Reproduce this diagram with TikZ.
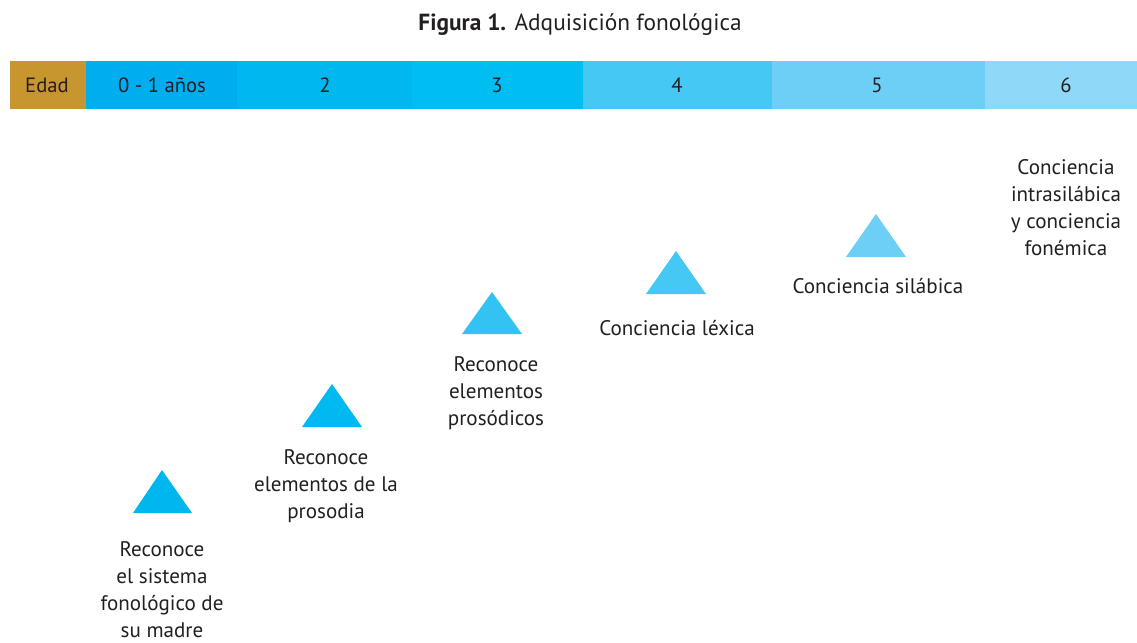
\documentclass[tikz,border=0pt]{standalone}
\usepackage{fontspec}
\setmainfont{PT Sans}
\definecolor{txt}{HTML}{231F20}
\definecolor{cEdad}{HTML}{C8962E}
\definecolor{cA}{HTML}{00AEEF}
\definecolor{cB}{HTML}{00B7F0}
\definecolor{cC}{HTML}{00BDF2}
\definecolor{cD}{HTML}{45C8F4}
\definecolor{cE}{HTML}{6DCFF6}
\definecolor{cF}{HTML}{8FD8F7}
\definecolor{tA}{HTML}{00B6EE}
\definecolor{tB}{HTML}{00B9F0}
\definecolor{tC}{HTML}{33C3F3}
\definecolor{tD}{HTML}{45C8F4}
\definecolor{tE}{HTML}{6DCFF6}
\tikzset{
  cell/.style={inner sep=0pt, text=txt, font=\fontsize{15.5}{18}\selectfont},
  lbl/.style={inner sep=0pt, text=txt, align=center, font=\fontsize{15.8}{20.2}\selectfont},
  tri/.style={draw=none}
}
\begin{document}
\begin{tikzpicture}[x=0.75pt,y=-0.75pt]
\useasboundingbox (0,0) rectangle (1137,642);
% title
\node[inner sep=0pt, text=txt, font=\fontsize{17.5}{20}\selectfont] (title) at (580,25) {\textbf{Figura 1.} Adquisición fonológica};
% header bar
\fill[cEdad] (10,61) rectangle (86,109);
\fill[cA] (86,61) rectangle (237,109);
\fill[cB] (237,61) rectangle (412,109);
\fill[cC] (412,61) rectangle (583,109);
\fill[cD] (583,61) rectangle (772,109);
\fill[cE] (772,61) rectangle (985,109);
\fill[cF] (985,61) rectangle (1137,109);
\node[cell] (h0) at (47,85) {Edad};
\node[cell] (h1) at (162,85) {0 - 1 años};
\node[cell] (h2) at (325,85) {2};
\node[cell] (h3) at (497,85) {3};
\node[cell] (h4) at (677,85) {4};
\node[cell] (h5) at (877,85) {5};
\node[cell] (h6) at (1066,85) {6};
% triangles
\fill[tA] (133,513) -- (162,470) -- (192,513) -- cycle;
\fill[tB] (302,427) -- (332,384) -- (362,427) -- cycle;
\fill[tC] (462,334) -- (492,292) -- (522,334) -- cycle;
\fill[tD] (646,294) -- (676,251) -- (706,294) -- cycle;
\fill[tE] (846,257) -- (876,214) -- (906,257) -- cycle;
% labels
\node[lbl] (l1) at (162,590) {Reconoce\\el sistema\\fonológico de\\su madre};
\node[lbl] (l2) at (326,486) {Reconoce\\elementos de la\\prosodia};
\node[lbl] (l3) at (496,393) {Reconoce\\elementos\\prosódicos};
\node[lbl] (l4) at (677,328) {Conciencia léxica};
\node[lbl] (l5) at (878,286) {Conciencia silábica};
\node[lbl] (l6) at (1066,208) {Conciencia\\intrasilábica\\y conciencia\\fonémica};
\end{tikzpicture}
\end{document}
